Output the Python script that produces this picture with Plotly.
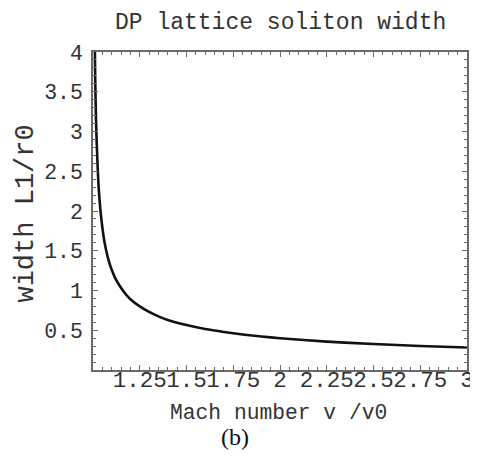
import plotly.graph_objects as go

# Data
mach = [1.009, 1.012, 1.016, 1.02, 1.025, 1.03, 1.04, 1.05, 1.06, 1.07, 1.08, 1.09,
        1.10, 1.12, 1.14, 1.16, 1.18, 1.20, 1.25, 1.30, 1.35, 1.40, 1.50, 1.60,
        1.70, 1.80, 1.90, 2.00, 2.25, 2.50, 2.75, 3.00]
width = [4.2, 3.65, 3.15, 2.85, 2.55, 2.3, 2.0, 1.79, 1.63, 1.51, 1.41, 1.33,
         1.26, 1.15, 1.07, 1.0, 0.94, 0.89, 0.80, 0.73, 0.675, 0.63, 0.565, 0.515,
         0.478, 0.447, 0.421, 0.40, 0.357, 0.327, 0.302, 0.283]

x_tickvals = [1.25, 1.5, 1.75, 2, 2.25, 2.5, 2.75, 3]
x_ticktext = ["1.25", "1.5", "1.75", "2", "2.25", "2.5", "2.75", "3"]
y_tickvals = [0.5, 1, 1.5, 2, 2.5, 3, 3.5, 4]
y_ticktext = ["0.5", "1", "1.5", "2", "2.5", "3", "3.5", "4"]

title_text = "DP lattice soliton width"
x_title = "Mach number v /v0"
y_title = "width L1/r0"
panel_label = "(b)"

mono = "Liberation Mono, Courier New, monospace"
serif = "Liberation Serif, Times New Roman, serif"
frame_col = "#6a6a6a"
text_col = "#333333"

fig = go.Figure()
fig.add_trace(go.Scatter(x=mach, y=width, mode="lines",
                         line=dict(color="#111111", width=2.6, shape="spline", smoothing=0.5),
                         hoverinfo="skip", showlegend=False))

axis_common = dict(showgrid=False, zeroline=False, showline=True, linecolor=frame_col,
                   linewidth=1.5, mirror="ticks", ticks="inside", ticklen=5, tickwidth=1,
                   tickcolor=frame_col, tickangle=0)

fig.update_xaxes(range=[1, 3], tickvals=x_tickvals, ticktext=x_ticktext,
                 minor=dict(ticks="inside", dtick=0.05, tick0=1, ticklen=3, tickcolor=frame_col),
                 tickfont=dict(family=mono, size=22.5, color=text_col),
                 ticklabelstandoff=-12, **axis_common)
fig.update_yaxes(range=[0, 4], tickvals=y_tickvals, ticktext=y_ticktext,
                 minor=dict(ticks="inside", dtick=0.1, tick0=0, ticklen=3, tickcolor=frame_col),
                 tickfont=dict(family=mono, size=21.5, color=text_col),
                 ticklabelstandoff=4, **axis_common)

def py(p):
    return (362 - p) / 318

def px(p):
    return (p - 85) / 377

fig.update_layout(
    width=478, height=461,
    margin=dict(l=85, r=16, t=44, b=99),
    paper_bgcolor="white", plot_bgcolor="white",
    annotations=[
        dict(text=title_text, xref="paper", yref="paper", x=0.5, y=py(15),
             xanchor="center", yanchor="middle", showarrow=False,
             font=dict(family=mono, size=23, color=text_col)),
        dict(text=x_title, xref="paper", yref="paper", x=px(271.5), y=py(405),
             xanchor="center", yanchor="middle", showarrow=False,
             font=dict(family=mono, size=21.3, color=text_col)),
        dict(text=y_title, xref="paper", yref="paper", x=px(17), y=py(206),
             xanchor="center", yanchor="middle", showarrow=False, textangle=-90,
             font=dict(family=mono, size=27, color=text_col)),
        dict(text=panel_label, xref="paper", yref="paper", x=px(228), y=py(429),
             xanchor="center", yanchor="middle", showarrow=False,
             font=dict(family=serif, size=24, color="#111111")),
    ],
)

fig.write_html("out.html")
